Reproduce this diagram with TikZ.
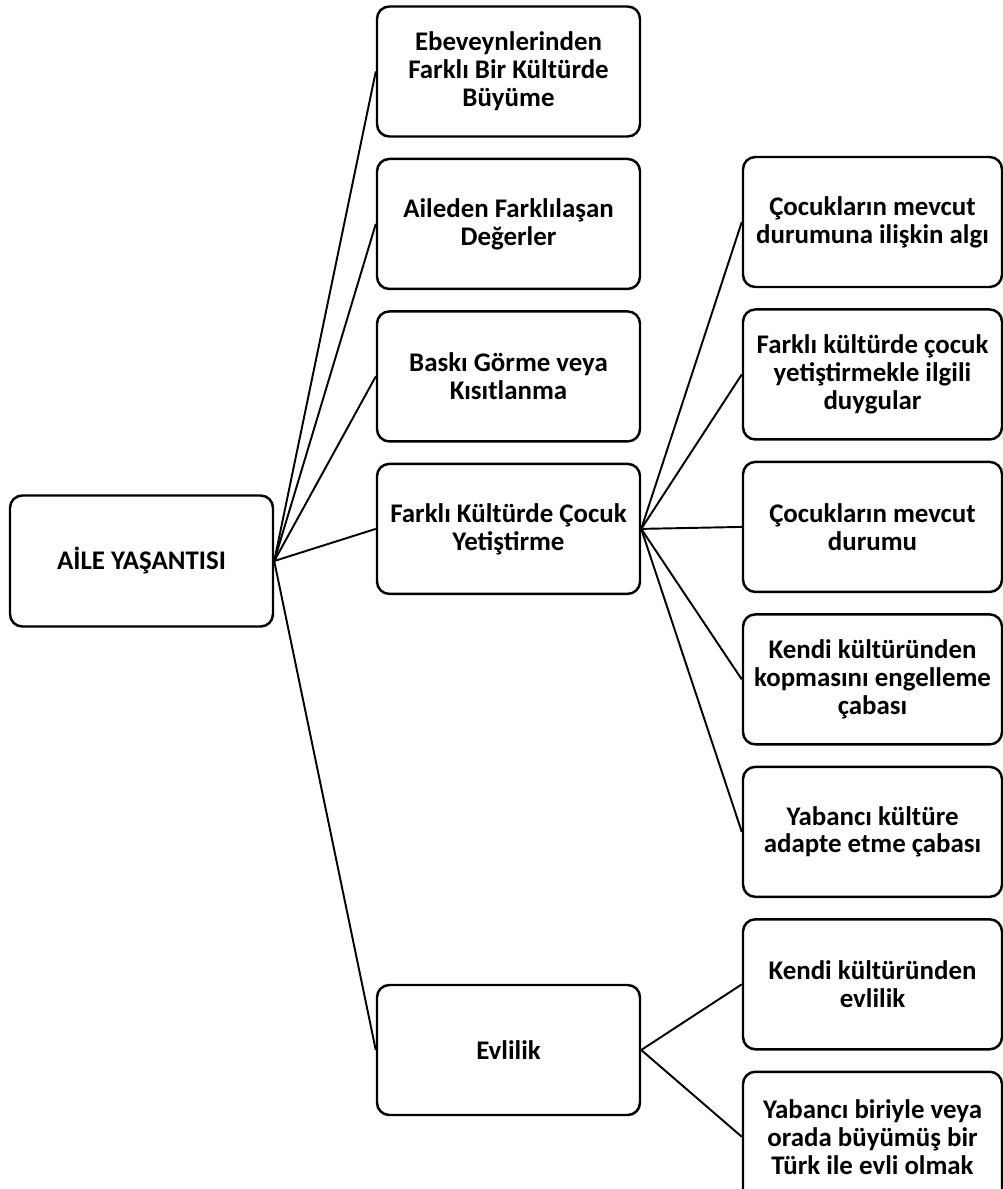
\documentclass[tikz,border=0pt]{standalone}
\usepackage{fontspec}
\setmainfont{Carlito}
\usepackage{tikz}
\usetikzlibrary{positioning}
\tikzset{
	rootbox/.style ={rectangle, rounded corners=7pt, draw=black, line width=1.4pt, minimum width=5.26cm, minimum height=2.62cm, align=center, inner sep=2pt, font=\bfseries\fontsize{15.3}{15.9}\selectfont},
	themebox/.style={rootbox, minimum width=5.26cm, minimum height=2.6cm},
	subbox/.style  ={rootbox, minimum width=5.18cm, minimum height=2.6cm},
	link/.style    ={line width=1.1pt},
}
\begin{document}
\begin{tikzpicture}[node distance=0.4cm]
	\useasboundingbox (0,0) rectangle (20.06,-23.78);
	\node[rootbox] (root) at (2.83,-11.22) {AİLE YAŞANTISI};
	% middle column
	\node[themebox] (m1) at (10.17,-1.43) {Ebeveynlerinden\\ Farklı Bir Kültürde\\ Büyüme};
	\node[themebox, below=of m1] (m2) {Aileden Farklılaşan\\ Değerler};
	\node[themebox, below=of m2] (m3) {Baskı Görme veya\\ Kısıtlanma};
	\node[themebox, below=of m3] (m4) {Farklı Kültürde Çocuk\\ Yetiştirme};
	\node[themebox] (m5) at (10.17,-21.0) {Evlilik};
	% right column
	\node[subbox] (r1) at (17.45,-4.44) {Çocukların mevcut\\ durumuna ilişkin algı};
	\node[subbox, below=of r1] (r2) {Farklı kültürde çocuk\\ yetiştirmekle ilgili\\ duygular};
	\node[subbox, below=of r2] (r3) {Çocukların mevcut\\ durumu};
	\node[subbox, below=of r3] (r4) {Kendi kültüründen\\ kopmasını engelleme\\ çabası};
	\node[subbox, below=of r4] (r5) {Yabancı kültüre\\ adapte etme çabası};
	\node[subbox, below=of r5] (r6) {Kendi kültüründen\\ evlilik};
	\node[subbox, below=of r6] (r7) {Yabancı biriyle veya\\ orada büyümüş bir\\ Türk ile evli olmak};
	\foreach \m in {m1,m2,m3,m4,m5}
		\draw[link] (root.east) -- (\m.west);
	\foreach \r in {r1,r2,r3,r4,r5}
		\draw[link] (m4.east) -- (\r.west);
	\foreach \r in {r6,r7}
		\draw[link] (m5.east) -- (\r.west);
\end{tikzpicture}
\end{document}
